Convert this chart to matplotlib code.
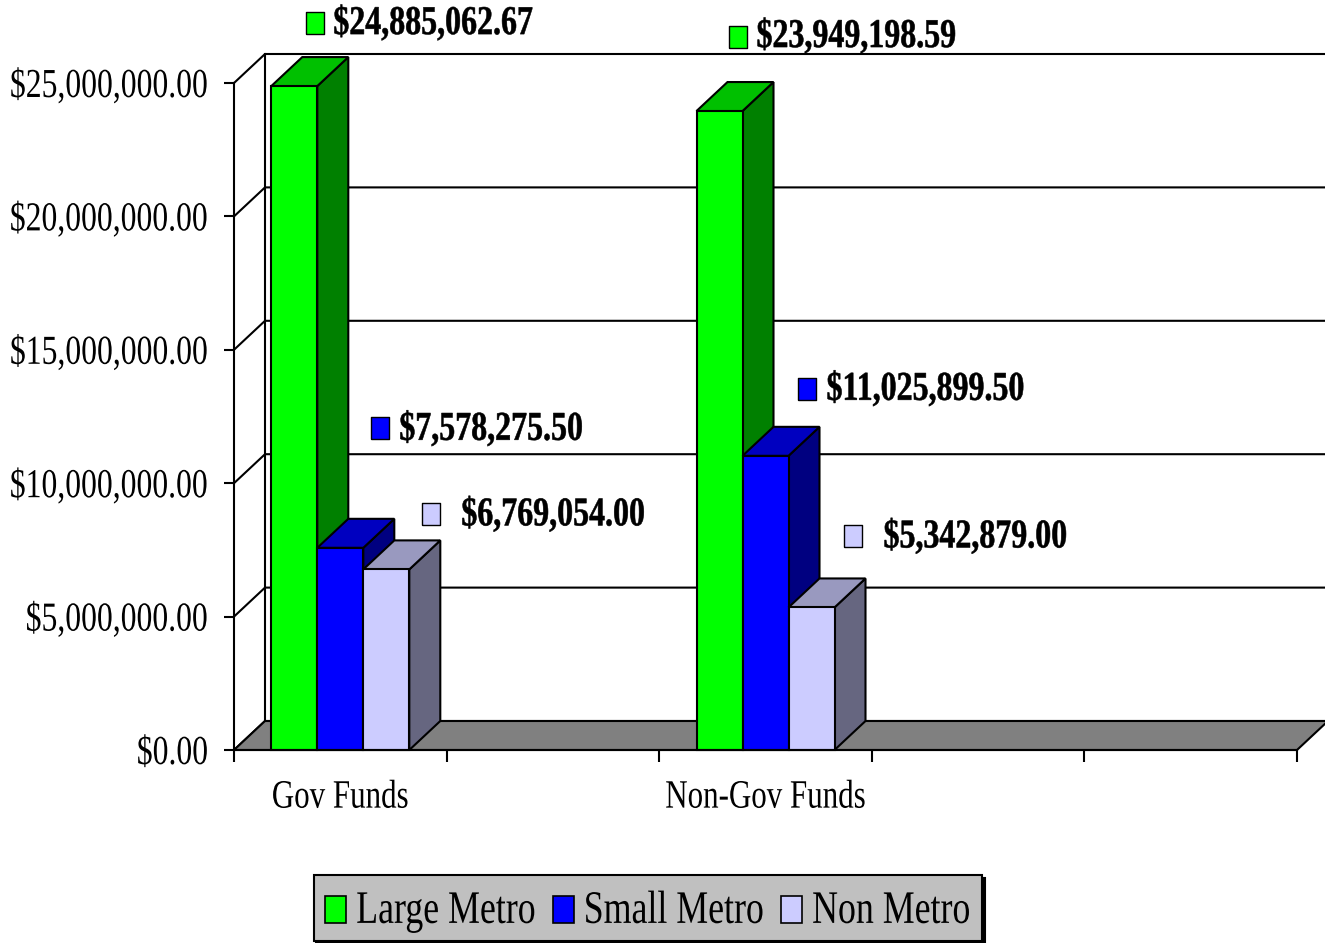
import matplotlib
matplotlib.use("Agg")
import matplotlib.pyplot as plt
import matplotlib.patheffects as pe
from matplotlib.patches import Patch, Polygon
from matplotlib.transforms import Affine2D, offset_copy

# values
categories = ["Gov Funds", "", "Non-Gov Funds", "", ""]
series_names = ["Large Metro", "Small Metro", "Non Metro"]
large_metro = [24885062.67, 23949198.59]
small_metro = [7578275.50, 11025899.50]
non_metro = [6769054.00, 5342879.00]
value_labels = [
    ["$24,885,062.67", "$23,949,198.59"],
    ["$7,578,275.50", "$11,025,899.50"],
    ["$6,769,054.00", "$5,342,879.00"],
]
y_ticks = [0, 5000000, 10000000, 15000000, 20000000, 25000000]
y_tick_labels = ["$0.00", "$5,000,000.00", "$10,000,000.00",
                 "$15,000,000.00", "$20,000,000.00", "$25,000,000.00"]

# scale of the picture, in pixels
W, H = 1325, 943
X0, Y0 = 234, 750
PX_PER_CAT = 212.6
PX_PER_VAL = 667 / 25000000
DEPTH_X = 31 / PX_PER_CAT
DEPTH_Y = 29 / PX_PER_VAL
BAR_W = 46 / PX_PER_CAT

FRONT = ["#00ff00", "#0000ff", "#ccccff"]
TOP = ["#00c000", "#0000c0", "#9999bf"]
SIDE = ["#008000", "#000080", "#666680"]
LW = 1.5

# (key dx, key dy, text dx, text dy) from the top left corner of each bar
label_offsets = [
    [(44, 63, 62, 52), (41, 74, 60, 64)],
    [(63, 120, 82, 108), (64, 67, 84, 56)],
    [(68, 55, 98, 44), (64, 71, 95, 60)],
]
# the keys are a little taller than wide
KEY_VERTS = [(-0.41, -0.5), (0.41, -0.5), (0.41, 0.5), (-0.41, 0.5), (-0.41, -0.5)]


# the reference text is squeezed sideways, so stretch the glyphs upward
class Stretch(pe.AbstractPathEffect):
    def __init__(self, k, shift=0, stroke=0):
        super().__init__()
        self.k = k
        self.shift = shift
        self.stroke = stroke

    def draw_path(self, renderer, gc, tpath, affine, rgbFace=None):
        tr = Affine2D().scale(1, self.k) + affine + Affine2D().translate(0, -self.shift)
        gc0 = renderer.new_gc()
        gc0.copy_properties(gc)
        if self.stroke:
            gc0.set_linewidth(self.stroke)
            gc0.set_foreground("black")
        renderer.draw_path(gc0, tpath, tr, rgbFace)
        gc0.restore()


plt.rcParams["font.family"] = ["Liberation Serif", "DejaVu Serif"]
fig = plt.figure(figsize=(W / 100, H / 100), dpi=100)
ax = fig.add_axes([0, 0, 1, 1])
ax.set_xlim(-X0 / PX_PER_CAT, (W - X0) / PX_PER_CAT)
ax.set_ylim((Y0 - H) / PX_PER_VAL, Y0 / PX_PER_VAL)
ax.patch.set_visible(False)
n_cat = len(categories)

# floor
ax.add_patch(Polygon([(0, 0), (n_cat, 0), (n_cat + DEPTH_X, DEPTH_Y), (DEPTH_X, DEPTH_Y)],
                     facecolor="#808080", edgecolor="black", lw=LW, zorder=1))
# back wall and the grid
for v in y_ticks:
    ax.plot([0, DEPTH_X, n_cat + DEPTH_X], [v, v + DEPTH_Y, v + DEPTH_Y],
            color="black", lw=LW, zorder=0.5)
ax.plot([DEPTH_X, DEPTH_X], [DEPTH_Y, y_ticks[-1] + DEPTH_Y], color="black", lw=LW, zorder=0.5)

# bars, left to right so each covers the side of the one before
centres = [i + 0.5 for i, c in enumerate(categories) if c]
series = [large_metro, small_metro, non_metro]
z = 2
for c, cx in enumerate(centres):
    for s, vals in enumerate(series):
        v = vals[c]
        x = cx + (s - 1.5) * BAR_W
        r = x + BAR_W
        ax.add_patch(Polygon([(r, 0), (r + DEPTH_X, DEPTH_Y), (r + DEPTH_X, v + DEPTH_Y), (r, v)],
                             facecolor=SIDE[s], edgecolor="black", lw=LW, zorder=z))
        ax.add_patch(Polygon([(x, v), (r, v), (r + DEPTH_X, v + DEPTH_Y), (x + DEPTH_X, v + DEPTH_Y)],
                             facecolor=TOP[s], edgecolor="black", lw=LW, zorder=z))
        ax.bar(x, v, BAR_W, align="edge", color=FRONT[s], edgecolor="black", lw=LW, zorder=z)
        z += 1

# data labels with their little keys
for s, vals in enumerate(series):
    for c, cx in enumerate(centres):
        x = cx + (s - 1.5) * BAR_W
        kx, ky, tx, ty = label_offsets[s][c]
        ax.plot([x], [vals[c]], marker=KEY_VERTS, ms=15.8, mfc=FRONT[s], mec="black", mew=1.0,
                transform=offset_copy(ax.transData, fig, x=kx, y=ky, units="dots"),
                zorder=30, clip_on=False)
        ax.annotate(value_labels[s][c], (x, vals[c]), xytext=(tx, ty), textcoords="offset pixels",
                    fontsize=23, fontweight="bold", va="baseline", ha="left", parse_math=False,
                    zorder=31, path_effects=[Stretch(1.28, stroke=0.4)])

# axes
for side in ["top", "right"]:
    ax.spines[side].set_visible(False)
ax.spines["left"].set_position(("data", 0))
ax.spines["left"].set_bounds(0, y_ticks[-1])
ax.spines["bottom"].set_position(("data", 0))
ax.spines["bottom"].set_bounds(0, n_cat)
for sp in ax.spines.values():
    sp.set_linewidth(LW)
    sp.set_zorder(40)

ax.set_yticks(y_ticks)
ax.set_yticklabels(y_tick_labels, fontsize=22.8, parse_math=False)
ax.tick_params(axis="y", direction="out", length=7.5, width=LW, pad=11)
for lab in ax.get_yticklabels():
    lab.set_va("baseline")
    lab.set_path_effects([Stretch(1.3, shift=14)])

ax.set_xticks(range(n_cat + 1))
ax.set_xticklabels([""] * (n_cat + 1))
ax.set_xticks(centres, [c for c in categories if c], minor=True)
ax.tick_params(axis="x", which="major", direction="out", length=8.5, width=LW)
ax.tick_params(axis="x", which="minor", length=0, pad=41.5, labelsize=22.3)
for lab in ax.get_xticklabels(minor=True):
    lab.set_va("baseline")
    lab.set_path_effects([Stretch(1.3)])

# legend
handles = [Patch(facecolor=FRONT[i], edgecolor="black", lw=1.2) for i in range(3)]
leg = ax.legend(handles, series_names, ncol=3, loc="center",
                bbox_to_anchor=(648 / W, 1 - 908 / H), bbox_transform=fig.transFigure,
                fontsize=25.8, fancybox=False, edgecolor="black", facecolor="#c0c0c0",
                framealpha=1, shadow={"color": "black", "alpha": 1},
                handlelength=0.58, handleheight=1.42, handletextpad=0.28,
                columnspacing=0.48, borderpad=0.33, borderaxespad=0)
leg.get_frame().set_linewidth(LW)
leg.set_zorder(50)
for t in leg.get_texts():
    t.set_path_effects([Stretch(1.3, shift=3)])
# tall row keeps the box height, the keys themselves are shorter
for p in leg.get_patches():
    p.set_y(-2)
    p.set_height(19.4)

fig.savefig("out.png", dpi=100)
